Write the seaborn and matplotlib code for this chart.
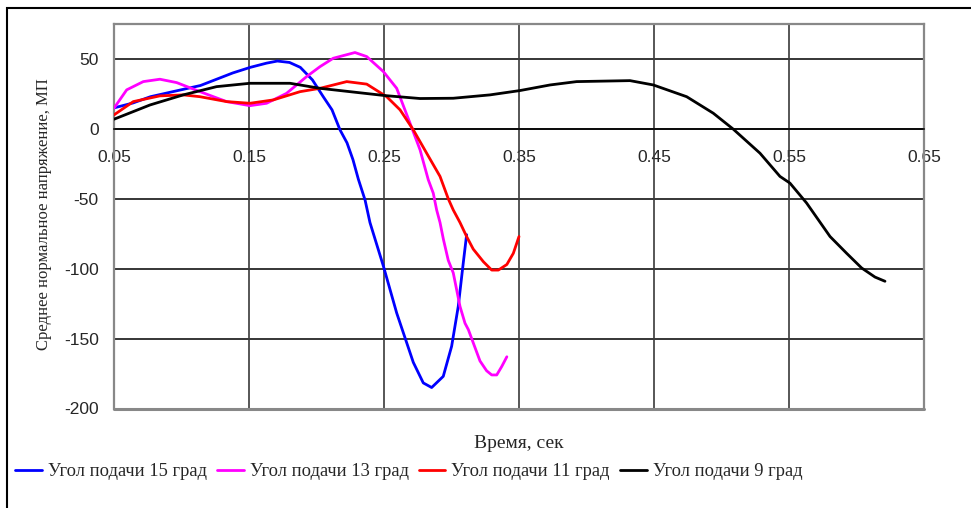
import matplotlib
matplotlib.use("Agg")
import matplotlib.pyplot as plt
import seaborn as sns
import pandas as pd
from matplotlib.patches import Rectangle
from matplotlib.transforms import Bbox, TransformedBbox

# ---- data ----
t15 = [0.05, 0.064, 0.077, 0.094, 0.114, 0.138, 0.151, 0.163, 0.171, 0.180, 0.188,
       0.197, 0.205, 0.2115, 0.2174, 0.2226, 0.227, 0.231, 0.236, 0.2396, 0.2495,
       0.2594, 0.2717, 0.2791, 0.2853, 0.2939, 0.3001, 0.305, 0.3087, 0.3112]
v15 = [15, 18.5, 23, 26.7, 31, 40, 44, 47, 48.5, 47.5, 44,
       35, 23, 13.6, -0.7, -10, -22, -36, -51, -67, -98,
       -131.7, -167, -181.7, -185, -177, -155.5, -127, -96, -75.7]

t13 = [0.05, 0.0594, 0.0717, 0.084, 0.0964, 0.1137, 0.1334, 0.1507, 0.163, 0.1778,
       0.1927, 0.2026, 0.2124, 0.2285, 0.2372, 0.2495, 0.2594, 0.2693, 0.2767,
       0.2828, 0.2865, 0.289, 0.2915, 0.294, 0.2976, 0.3013, 0.3038, 0.3063, 0.31,
       0.3125, 0.3161, 0.3211, 0.326, 0.3298, 0.3335, 0.3372, 0.341]
v13 = [14.8, 27.9, 33.8, 35.5, 33.1, 26.6, 19.5, 16.6, 18.3, 25.4,
       37.4, 44.5, 50.5, 54.6, 51.7, 41, 29, 4, -15,
       -36.4, -46, -58, -67, -79, -94, -103, -115, -127, -139,
       -143.6, -153, -166, -173, -176, -176, -170, -163]

t11 = [0.05, 0.0643, 0.084, 0.1013, 0.1137, 0.1334, 0.1507, 0.168, 0.1878, 0.2026,
       0.2224, 0.2372, 0.252, 0.2619, 0.2717, 0.2816, 0.2915, 0.2976, 0.3013, 0.3063,
       0.3112, 0.3161, 0.3236, 0.3298, 0.3347, 0.341, 0.3458, 0.35]
v11 = [10, 19.5, 23.6, 24.3, 23, 19.5, 18.3, 20.7, 26.6, 29,
       33.8, 32, 23, 13.6, -0.7, -17.4, -34, -50, -58, -67,
       -77, -86, -95, -101, -101, -97, -89, -77]

t9 = [0.05, 0.0767, 0.1013, 0.126, 0.1507, 0.1804, 0.2026, 0.2248, 0.2507, 0.2767,
      0.3013, 0.3285, 0.3507, 0.373, 0.3927, 0.4322, 0.4495, 0.4742, 0.4939, 0.5087,
      0.5285, 0.5433, 0.5507, 0.563, 0.5804, 0.5927, 0.6038, 0.6137, 0.6211]
v9 = [6.9, 17.1, 24.3, 30.2, 32.6, 32.6, 29, 26.6, 23.8, 21.7,
      21.9, 24.3, 27.4, 31.4, 33.8, 34.5, 31.4, 23, 11.2, -0.2,
      -17.4, -34, -38.8, -53, -77, -89, -99.5, -106, -109]

series_names = ["Угол подачи 15 град", "Угол подачи 13 град",
                "Угол подачи 11 град", "Угол подачи 9 град"]
series_colors = ["#0000FF", "#FF00FF", "#FF0000", "#000000"]
x_ticks = [0.05, 0.15, 0.25, 0.35, 0.45, 0.55, 0.65]
y_ticks = [-200, -150, -100, -50, 0, 50]

frames = []
for name, tt, vv in zip(series_names, [t15, t13, t11, t9], [v15, v13, v11, v9]):
    frames.append(pd.DataFrame({"t": tt, "v": vv, "series": name}))
df = pd.concat(frames, ignore_index=True)

# ---- figure ----
sns.set_style("white")
plt.rcParams["font.family"] = ["Liberation Sans", "DejaVu Sans"]

W, H = 971, 508
fig = plt.figure(figsize=(W / 100, H / 100), dpi=100)
ax = fig.add_axes([114 / W, 1 - 408.5 / H, (924 - 114) / W, (408.5 - 24) / H])

sns.lineplot(data=df, x="t", y="v", hue="series", hue_order=series_names,
             palette=series_colors, sort=False, estimator=None, linewidth=2.0,
             ax=ax, legend=False, zorder=5)

ax.set_xlim(0.05, 0.65)
ax.set_ylim(-200, 75)
ax.set_xticks(x_ticks)
ax.set_xticklabels([f"{v:.2f}" for v in x_ticks])
ax.set_yticks(y_ticks)
ax.set_yticklabels([str(v) for v in y_ticks])

ax.grid(False)
for y in y_ticks[1:]:
    ax.axhline(y, color="black", lw=1.1, zorder=1)
for x in x_ticks[1:-1]:
    ax.axvline(x, color="#3a3a3a", lw=1.2, zorder=1)

gray = "#888888"
for s in ["top", "left", "right"]:
    ax.spines[s].set_color(gray)
    ax.spines[s].set_linewidth(1.6)
ax.spines["bottom"].set_position(("data", 0))
ax.spines["bottom"].set_color("black")
ax.spines["bottom"].set_linewidth(1.1)
ax.axhline(-200, color=gray, lw=2.2, zorder=2, clip_on=False)

ax.tick_params(axis="x", direction="out", length=5, width=1.1, color="black",
               pad=10, labelsize=12.5)
ax.tick_params(axis="y", direction="out", length=6, width=1.1, color=gray,
               pad=5, labelsize=12.5)
ax.set_xlabel("")
ax.set_ylabel("")

# x label
fig.text(519 / W, 1 - 443 / H, "Время, сек", ha="center", va="center",
         fontsize=14, family=["Liberation Serif", "DejaVu Serif"])

# y label (clipped at top, like the reference)
yl = fig.text(44 / W, 1 - 350 / H, "Среднее нормальное напряжение, МПа",
              rotation=90, ha="center", va="bottom", fontsize=12.0,
              family=["Liberation Serif", "DejaVu Serif"])
yl.set_clip_box(TransformedBbox(Bbox([[0, 0], [1, 1 - 79 / H]]), fig.transFigure))
yl.set_clip_on(True)

# legend
handles = [plt.Line2D([], [], color=c, lw=2.0) for c in series_colors]
fig.legend(handles, series_names, loc="center left",
           bbox_to_anchor=(15 / W, 1 - 472 / H), ncol=4, frameon=False,
           prop={"family": ["Liberation Serif", "DejaVu Serif"], "size": 13.3},
           handlelength=1.45, handletextpad=0.32, columnspacing=0.55,
           borderaxespad=0, borderpad=0)

# outer chart border
fig.add_artist(Rectangle((7 / W, -0.2), 1.2, 1.2 - 8 / H, fill=False,
                         edgecolor="black", lw=1.5, transform=fig.transFigure,
                         clip_on=False))

fig.savefig("out.png", dpi=100)
